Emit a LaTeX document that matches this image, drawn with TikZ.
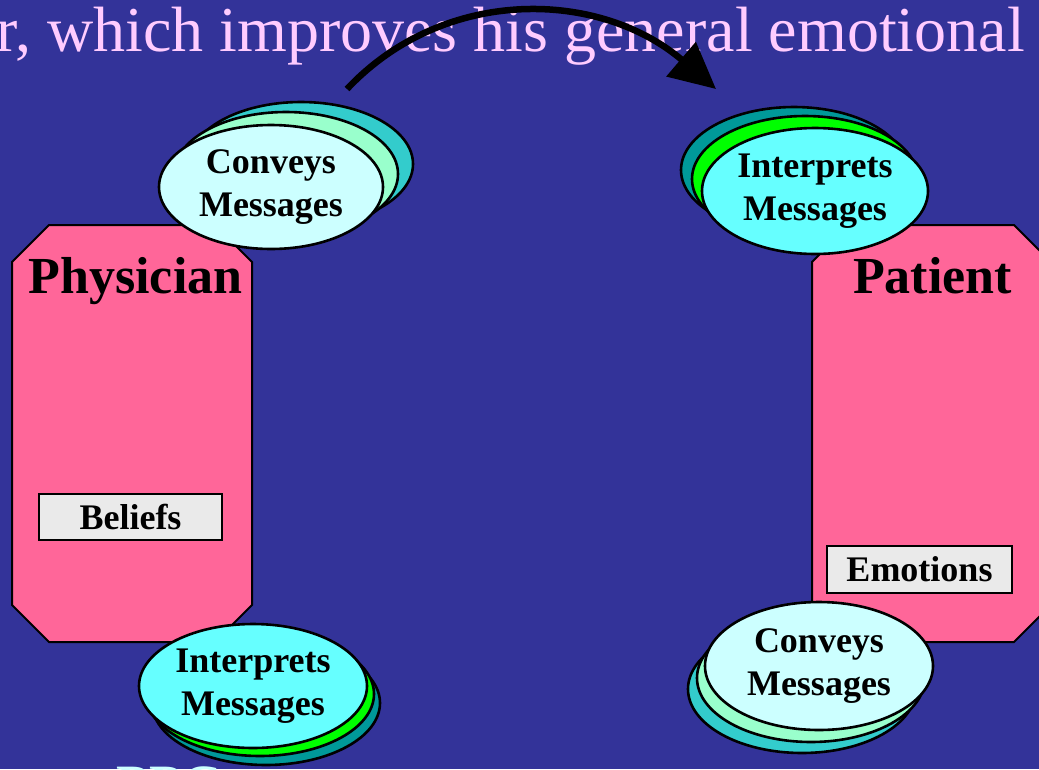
\documentclass[tikz,border=0pt]{standalone}
\usepackage{fontspec}
\setmainfont{Liberation Serif}
\usetikzlibrary{shapes.geometric,arrows.meta}
\definecolor{bg}{RGB}{51,51,153}
\definecolor{boxpink}{RGB}{255,102,153}
\definecolor{pale}{RGB}{204,255,255}
\definecolor{mint}{RGB}{153,255,204}
\definecolor{tealA}{RGB}{51,204,204}
\definecolor{aqua}{RGB}{102,255,255}
\definecolor{lime}{RGB}{0,255,0}
\definecolor{tealB}{RGB}{0,153,153}
\definecolor{labelgray}{RGB}{234,234,234}
\definecolor{titlepink}{RGB}{255,204,255}
\definecolor{footcyan}{RGB}{204,255,255}
\begin{document}
\begin{tikzpicture}[x=1pt,y=-1pt,
  rolebox/.style={draw=black,fill=boxpink,line width=2pt,line join=miter},
  roletitle/.style={anchor=base,font=\bfseries\fontsize{52}{52}\selectfont},
  trait/.style={draw=black,fill=labelgray,line width=1.6pt,font=\bfseries\fontsize{36}{36}\selectfont,
    inner sep=0pt},
  disc/.style={ellipse,draw=black,line width=2.6pt,inner sep=0pt},
  msg/.style={disc,align=center,font=\bfseries\fontsize{36}{43}\selectfont}]
\useasboundingbox (0,0) rectangle (1039,769);
\clip (0,0) rectangle (1039,769);
\fill[bg] (0,0) rectangle (1039,769);

% heading line and footer line
\node[anchor=base east,text=titlepink,font=\fontsize{64}{64}\selectfont,inner sep=0pt]
  (head) at (1025,51) {r, which improves his general emotional};
\node[anchor=base west,text=footcyan,font=\bfseries\fontsize{54}{54}\selectfont,inner sep=0pt]
  (foot) at (116,802.5) {PPC};

% physician and patient panels
\draw[rolebox] (12,262) -- (49,225) -- (215,225) -- (252,262) -- (252,605)
  -- (215,642) -- (49,642) -- (12,605) -- cycle;
\draw[rolebox] (812,262) -- (849,225) -- (1014,225) -- (1051,262) -- (1051,605)
  -- (1014,642) -- (849,642) -- (812,605) -- cycle;
\node[roletitle] (phys) at (135.5,293) {Physician};
\node[roletitle] (pat) at (932.5,293) {Patient};
\node[trait,minimum width=183pt,minimum height=46pt] (beliefs) at (130.5,517) {Beliefs};
\node[trait,minimum width=185pt,minimum height=47pt] (emotions) at (919.5,569.5) {Emotions};

% physician conveys
\node[disc,fill=tealA,minimum width=224pt,minimum height=124pt] (pc3) at (301,164) {};
\node[disc,fill=mint,minimum width=224pt,minimum height=124pt] (pc2) at (286,174) {};
\node[msg,fill=pale,minimum width=224pt,minimum height=124pt] (pc1) at (271,187) {Conveys\\Messages};

% patient interprets
\node[disc,fill=tealB,minimum width=226pt,minimum height=126pt] (pi3) at (794,170) {};
\node[disc,fill=lime,minimum width=226pt,minimum height=126pt] (pi2) at (805,179) {};
\node[msg,fill=aqua,minimum width=226pt,minimum height=126pt] (pi1) at (815,191) {Interprets\\Messages};

% physician interprets
\node[disc,fill=tealB,minimum width=228pt,minimum height=124pt] (ph3) at (266,703) {};
\node[disc,fill=lime,minimum width=228pt,minimum height=124pt] (ph2) at (260,694) {};
\node[msg,fill=aqua,minimum width=228pt,minimum height=124pt] (ph1) at (253,686) {Interprets\\Messages};

% patient conveys
\node[disc,fill=tealA,minimum width=228pt,minimum height=128pt] (pa3) at (802,689) {};
\node[disc,fill=mint,minimum width=228pt,minimum height=128pt] (pa2) at (811,678) {};
\node[msg,fill=pale,minimum width=228pt,minimum height=128pt] (pa1) at (819,666) {Conveys\\Messages};

% curved arrow from the physician's message to the patient
\coordinate (arrowstart) at (347,89);
\coordinate (arrowend) at (716,89);
\draw[line width=6.5pt,-{Triangle[length=46pt,width=44pt]}]
  (arrowstart) .. controls (445,-15) and (600,-10) .. (arrowend);
\end{tikzpicture}
\end{document}
